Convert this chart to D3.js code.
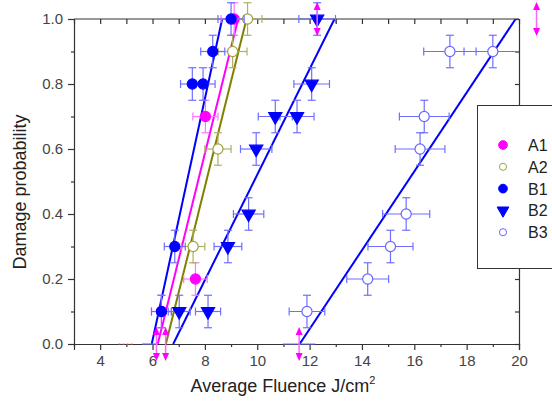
<!DOCTYPE html>
<html>
<head>
<meta charset="utf-8">
<script src="https://cdn.jsdelivr.net/npm/d3@7"></script>
<style>
  body { margin: 0; background: #fff; }
  svg text { font-family: "Liberation Sans", Arial, sans-serif; }
</style>
</head>
<body>
<svg width="552" height="403"></svg>
<script>
// data: [fluence, probability, x error]
const A1 = [[9.12, 1.0, 0.5], [8.02, 0.7, 0.48], [7.64, 0.2, 0.45], [6.34, 0.1, 0.38]];
const A2 = [[9.63, 1.0, 0.55], [9.06, 0.9, 0.55], [8.5, 0.6, 0.5], [7.55, 0.3, 0.45]];
const B1 = [[9.0, 1.0, 0.5], [8.3, 0.9, 0.46], [7.93, 0.8, 0.46], [7.52, 0.8, 0.45],
            [6.85, 0.3, 0.4], [6.34, 0.1, 0.38]];
const B2 = [[12.29, 1.0, 0.7], [12.08, 0.8, 0.68], [11.52, 0.7, 0.65], [10.69, 0.7, 0.65],
            [9.96, 0.6, 0.6], [9.67, 0.4, 0.58], [8.88, 0.3, 0.53], [8.12, 0.1, 0.48],
            [7.02, 0.1, 0.42]];
const B3 = [[19.0, 0.9, 1.1], [17.36, 0.9, 1.0], [16.38, 0.7, 0.95], [16.22, 0.6, 0.95],
            [15.69, 0.4, 0.9], [15.09, 0.3, 0.86], [14.22, 0.2, 0.8], [11.9, 0.1, 0.68]];
const yErr = 0.05;
// linear fits: fluence where p = 0 and p = 1
const fits = [
  { name: "A2", x0: 6.51, x1: 9.59 },
  { name: "A1", x0: 6.2, x1: 9.27 },
  { name: "B1", x0: 5.97, x1: 8.66 },
  { name: "B2", x0: 6.79, x1: 12.95 },
  { name: "B3", x0: 11.62, x1: 19.87 }
];
// off-scale points drawn as double arrows
const arrowPts = [[6.15, 0], [6.5, 0], [11.6, 0], [12.29, 1.0], [20.67, 1.0]];
// zero points with only a horizontal bar
const zeroBars = [[5.9, 0.3, "B"], [11.6, 0.62, "B"], [5.0, 0.3, "red"]];

const xTicks = [4, 6, 8, 10, 12, 14, 16, 18, 20];
const yTicks = [0, 0.2, 0.4, 0.6, 0.8, 1.0];

const series = [
  { name: "A1", data: A1, shape: "circle", fill: "#ff00ff", stroke: "#ff00ff", err: "#ff77ff" },
  { name: "A2", data: A2, shape: "circle", fill: "#fff", stroke: "#a0a040", err: "#b0b060" },
  { name: "B1", data: B1, shape: "circle", fill: "#0000ff", stroke: "#0000ff", err: "#6f6fff" },
  { name: "B2", data: B2, shape: "tri", fill: "#0000ff", stroke: "#0000ff", err: "#6f6fff" },
  { name: "B3", data: B3, shape: "circle", fill: "#fff", stroke: "#6666ff", err: "#6f6fff" }
];
const lineColor = { A1: "#ff00ff", A2: "#808000", B1: "#0000ff", B2: "#0000ff", B3: "#0000ff" };

const svg = d3.select("svg");
const L = 74, R = 519, T = 19, B = 344;
const x = d3.scaleLinear().domain([3, 20]).range([L, R]);
const y = d3.scaleLinear().domain([0, 1]).range([B, T]);
const axisColor = "#333";

svg.append("defs").append("clipPath").attr("id", "clip")
  .append("rect").attr("x", L).attr("y", T).attr("width", R - L).attr("height", B - T);

const plot = svg.append("g").attr("clip-path", "url(#clip)");

// minor ticks
const xMinor = d3.range(3, 21, 1);
const yMinor = d3.range(0, 1.001, 0.1);

// bottom axis
svg.append("g").attr("transform", `translate(0,${B})`)
  .call(d3.axisBottom(x).tickValues(xTicks).tickSize(6).tickPadding(5).tickFormat(d3.format("d")));
svg.append("g").attr("transform", `translate(0,${B})`)
  .call(d3.axisBottom(x).tickValues(xMinor.filter(d => d % 2)).tickSize(3).tickFormat(""))
  .select(".domain").remove();
// top axis
svg.append("g").attr("transform", `translate(0,${T})`)
  .call(d3.axisBottom(x).tickValues(xMinor).tickSize(5).tickFormat(""))
  .select(".domain").attr("d", `M${L},0H${R}`);
// left axis
svg.append("g").attr("transform", `translate(${L},0)`)
  .call(d3.axisLeft(y).tickValues(yTicks).tickSize(6).tickPadding(5).tickFormat(d3.format(".1f")));
svg.append("g").attr("transform", `translate(${L},0)`)
  .call(d3.axisLeft(y).tickValues([0.1, 0.3, 0.5, 0.7, 0.9]).tickSize(3).tickFormat(""))
  .select(".domain").remove();
// right axis
svg.append("g").attr("transform", `translate(${R},0)`)
  .call(d3.axisRight(y).tickValues(yMinor).tickSize(-4).tickFormat(""));

svg.selectAll(".domain, .tick line").attr("stroke", axisColor).attr("stroke-width", 1.2);
svg.selectAll(".tick text").attr("fill", "#444").style("font-size", "15px")
  .style("font-family", "'Liberation Sans', Arial, sans-serif");

// fit lines
plot.selectAll("line.fit").data(fits).join("line")
  .attr("class", "fit")
  .attr("x1", d => x(d.x0)).attr("y1", y(0))
  .attr("x2", d => x(d.x1)).attr("y2", y(1))
  .attr("stroke", d => lineColor[d.name]).attr("stroke-width", 2);

// zero-level horizontal bars
zeroBars.forEach(([v, e, c]) => {
  const col = c === "red" ? "#ff6060" : "#6f6fff";
  svg.append("line").attr("x1", x(v - e)).attr("x2", x(v + e)).attr("y1", y(0)).attr("y2", y(0))
    .attr("stroke", col).attr("stroke-width", 1.2).attr("stroke-dasharray", c === "red" ? "2,2" : null);
});

// error bars + markers
series.forEach(s => {
  const g = svg.append("g");
  s.data.forEach(([v, p, xe]) => {
    const e = g.append("g").attr("stroke", s.err).attr("stroke-width", 1.2).attr("fill", "none");
    const xa = x(v - xe), xb = Math.min(x(v + xe), R);
    e.append("line").attr("x1", xa).attr("x2", xb).attr("y1", y(p)).attr("y2", y(p));
    e.append("line").attr("x1", xa).attr("x2", xa).attr("y1", y(p) - 4).attr("y2", y(p) + 4);
    if (x(v + xe) <= R) e.append("line").attr("x1", xb).attr("x2", xb).attr("y1", y(p) - 4).attr("y2", y(p) + 4);
    const ya = y(p + yErr), yb = y(p - yErr);
    e.append("line").attr("x1", x(v)).attr("x2", x(v)).attr("y1", ya).attr("y2", yb);
    e.append("line").attr("x1", x(v) - 4).attr("x2", x(v) + 4).attr("y1", ya).attr("y2", ya);
    e.append("line").attr("x1", x(v) - 4).attr("x2", x(v) + 4).attr("y1", yb).attr("y2", yb);
  });
  const sym = s.shape === "tri" ? d3.symbol(d3.symbolTriangle, 75) : d3.symbol(d3.symbolCircle, 80);
  g.selectAll("path.m").data(s.data).join("path")
    .attr("class", "m")
    .attr("d", sym)
    .attr("transform", d => `translate(${x(d[0])},${y(d[1])})${s.shape === "tri" ? " rotate(180)" : ""}`)
    .attr("fill", s.fill).attr("stroke", s.stroke).attr("stroke-width", 1.2);
});

// double arrows
arrowPts.forEach(([v, p]) => {
  const cx = x(v), cy = y(p);
  const g = svg.append("g").attr("fill", "#ff00ff").attr("stroke", "#ff66ff");
  g.append("line").attr("x1", cx).attr("x2", cx).attr("y1", cy - 13).attr("y2", cy + 13).attr("stroke-width", 1.5);
  g.append("path").attr("stroke", "none").attr("d", `M${cx - 3.5},${cy - 9}L${cx},${cy - 17}L${cx + 3.5},${cy - 9}Z`);
  g.append("path").attr("stroke", "none").attr("d", `M${cx - 3.5},${cy + 9}L${cx},${cy + 17}L${cx + 3.5},${cy + 9}Z`);
});

// axis titles
svg.append("text").attr("x", 283).attr("y", 392).attr("text-anchor", "middle")
  .attr("fill", "#222").style("font-size", "18px")
  .html('Average Fluence J/cm<tspan dy="-8" style="font-size:11px">2</tspan>');
svg.append("text").attr("transform", `translate(26,192) rotate(-90)`)
  .attr("text-anchor", "middle").attr("fill", "#222").style("font-size", "18px")
  .text("Damage probability");

// legend
const leg = svg.append("g");
leg.append("rect").attr("x", 477.5).attr("y", 105.5).attr("width", 90).attr("height", 163)
  .attr("fill", "#fff").attr("stroke", "#333").attr("stroke-width", 1);
series.forEach((s, i) => {
  const ly = 145 + i * 21.8;
  const sym = s.shape === "tri" ? d3.symbol(d3.symbolTriangle, 60) : d3.symbol(d3.symbolCircle, s.fill === "#fff" ? 40 : 60);
  leg.append("path").attr("d", sym)
    .attr("transform", `translate(503,${ly})${s.shape === "tri" ? " rotate(180)" : ""}`)
    .attr("fill", s.fill).attr("stroke", s.stroke).attr("stroke-width", 1);
  leg.append("text").attr("x", 528).attr("y", ly + 6).attr("fill", "#222")
    .style("font-size", "16px").text(s.name);
});
</script>
</body>
</html>
